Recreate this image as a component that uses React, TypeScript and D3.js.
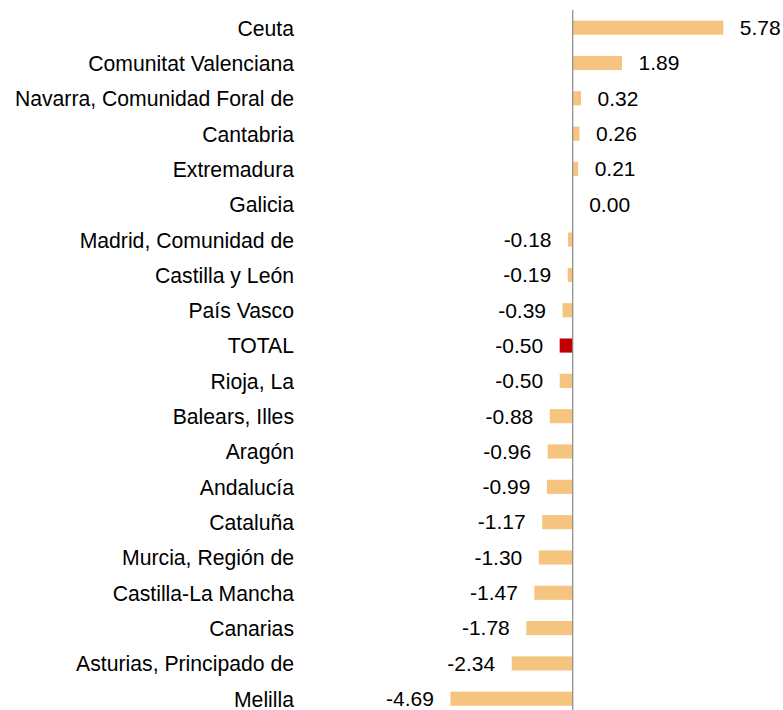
import React from "react";
import * as d3 from "d3";

const categories = [
  "Ceuta",
  "Comunitat Valenciana",
  "Navarra, Comunidad Foral de",
  "Cantabria",
  "Extremadura",
  "Galicia",
  "Madrid, Comunidad de",
  "Castilla y León",
  "País Vasco",
  "TOTAL",
  "Rioja, La",
  "Balears, Illes",
  "Aragón",
  "Andalucía",
  "Cataluña",
  "Murcia, Región de",
  "Castilla-La Mancha",
  "Canarias",
  "Asturias, Principado de",
  "Melilla",
];

const values = [
  5.78, 1.89, 0.32, 0.26, 0.21, 0.0, -0.18, -0.19, -0.39, -0.5, -0.5, -0.88,
  -0.96, -0.99, -1.17, -1.3, -1.47, -1.78, -2.34, -4.69,
];

const highlight = ["TOTAL"];

const W = 783;
const H = 710;
const FONT = "'Liberation Sans', Arial, sans-serif";
const FS_CAT = 21.2;
const FS_VAL = 21;

export default function App() {
  const zeroX = 572.7;
  const ppu = 26.06;
  const x = d3
    .scaleLinear()
    .domain([-5, 6])
    .range([zeroX - 5 * ppu, zeroX + 6 * ppu]);
  const y = d3
    .scaleBand<string>()
    .domain(categories)
    .range([10, 716.4])
    .paddingInner(0.6)
    .paddingOuter(0.3);

  const bw = y.bandwidth();

  return (
    <svg
      width={W}
      height={H}
      style={{ position: "absolute", left: 0, top: 0, background: "#fff" }}
      fontFamily={FONT}
    >
      {categories.map((c, i) => {
        const v = values[i];
        const yc = (y(c) as number) + bw / 2;
        const x0 = x(Math.min(0, v));
        const x1 = x(Math.max(0, v));
        const color = highlight.includes(c) ? "#C00000" : "#F5C57F";
        const label = v.toFixed(2);
        return (
          <g key={c}>
            <text
              x={294}
              y={yc + 0.5}
              dy="0.35em"
              textAnchor="end"
              fontSize={FS_CAT}
              fill="#000"
            >
              {c}
            </text>
            {v !== 0 && (
              <rect
                x={x0}
                y={y(c)}
                width={Math.max(0, x1 - x0)}
                height={bw}
                fill={color}
              />
            )}
            <text
              x={v >= 0 ? x1 + 16.5 : x0 - 16.5}
              y={yc}
              dy="0.35em"
              textAnchor={v >= 0 ? "start" : "end"}
              fontSize={FS_VAL}
              fill="#000"
            >
              {label}
            </text>
          </g>
        );
      })}
      <line
        x1={x(0)}
        x2={x(0)}
        y1={10}
        y2={716}
        stroke="#898989"
        strokeWidth={1.2}
      />
    </svg>
  );
}
